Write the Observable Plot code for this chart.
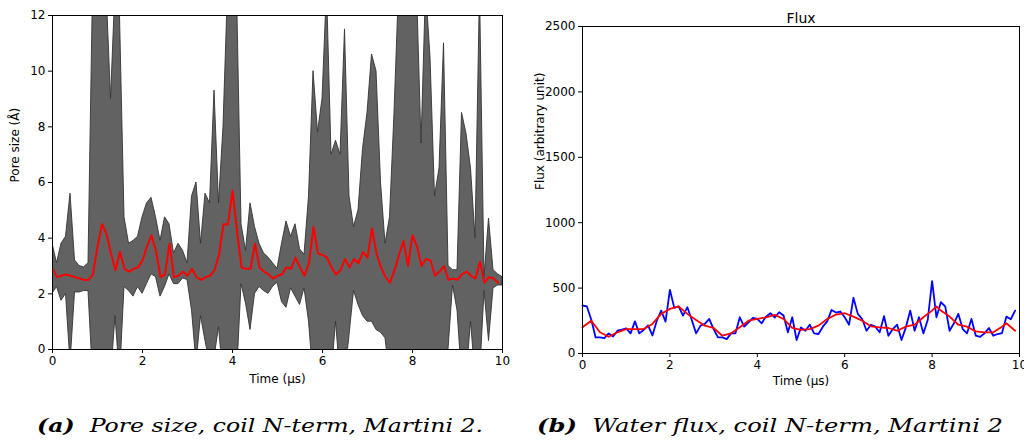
<!DOCTYPE html>
<html><head><meta charset="utf-8">
<script src="https://cdn.jsdelivr.net/npm/d3@7"></script>
<script src="https://cdn.jsdelivr.net/npm/@observablehq/plot@0.6"></script>
<style>
html,body{margin:0;padding:0;background:#fff}
body{width:1024px;height:443px;position:relative;overflow:hidden;font-family:"DejaVu Sans",sans-serif}
#a{position:absolute;left:0;top:0}
#b{position:absolute;left:520px;top:0}
.cap{position:absolute;top:413px;font-family:"DejaVu Serif","Liberation Serif",serif;font-style:italic;font-size:19px;line-height:24px;white-space:nowrap;transform-origin:0 0}
.cap b{font-weight:bold}
</style>
</head><body>
<div id="a"></div>
<div id="b"></div>
<div class="cap" id="capA" data-x0="37" data-x1="483"><b>(a)</b>&nbsp; Pore size, coil N-term, Martini 2.</div>
<div class="cap" id="capB" data-x0="537" data-x1="1003"><b>(b)</b>&nbsp; Water flux, coil N-term, Martini 2</div>
<script>
// ---- Pore size chart (a) ----
const poreTime = [0,0.1,0.2,0.3,0.4,0.5,0.6,0.7,0.8,0.9,1,1.1,1.2,1.3,1.4,1.5,1.6,1.7,1.8,1.9,2,2.1,2.2,2.3,2.4,2.5,2.6,2.7,2.8,2.9,3,3.1,3.2,3.3,3.4,3.5,3.6,3.7,3.8,3.9,4,4.1,4.2,4.3,4.4,4.5,4.6,4.7,4.8,4.9,5,5.1,5.2,5.3,5.4,5.5,5.6,5.7,5.8,5.9,6,6.1,6.2,6.3,6.4,6.5,6.6,6.7,6.8,6.9,7,7.1,7.2,7.3,7.4,7.5,7.6,7.7,7.8,7.9,8,8.1,8.2,8.3,8.4,8.5,8.6,8.7,8.8,8.9,9,9.1,9.2,9.3,9.4,9.5,9.6,9.7,9.8,9.9,10];
const poreUpper = [3.8,3.1,3.8,4.05,5.6,3.2,3.0,2.95,3.1,13,13,13,13,9,13,12,4.75,3.8,3.9,4.05,4.75,5.25,5.45,4.75,3.9,4.75,4.5,3.45,3.8,3.55,3.1,5.5,6.0,3.8,5.6,5.25,9.3,5.25,8.0,13,13,13,4.5,3.55,5.25,4.4,3.8,3.45,3.3,3.1,2.9,3.8,4.6,4.05,4.5,3.6,3.4,5.5,10.0,7.8,9.0,13,7.0,7.5,7.0,11.5,5.5,4.4,5.0,7.2,8.5,10.6,10.0,6.0,3.8,4.75,8.5,13,13,13,13,13,7.4,13,10.5,5.5,6.5,11.0,3.0,2.85,2.85,8.5,7.75,6.5,4.0,13,2.6,4.7,2.85,2.7,2.6];
const poreLower = [2.0,2.25,1.75,2.0,-0.5,2.05,2.05,2.1,2.1,-1,-1,-1,-1,-1,1.2,-1,2.25,2.1,1.9,2.25,2.0,2.35,2.7,2.6,1.9,2.25,2.7,2.35,2.35,2.55,2.5,1.4,-0.5,1.2,0.3,-0.5,-0.3,0.8,-1,-1,-1,-1,2.35,1.65,0.7,2.0,2.25,2.1,2.0,2.25,2.4,1.7,1.5,2.2,1.9,1.6,2.2,1.0,-1,-1,-1,-1,-1,1.0,-1,-1,0.5,2.1,1.6,1.2,1.0,1.0,0.7,0.6,0.4,-1,-1,-1,-1,-1,-1,-1,-1,-1,-1,-1,-1,-1,0,2.3,1.4,-1,-1,1.0,-1,-1,2.1,0.3,2.2,2.3,2.3];
const poreMean = [2.9,2.6,2.65,2.7,2.65,2.6,2.55,2.5,2.5,2.7,3.7,4.5,4.15,3.45,2.85,3.5,2.9,2.8,2.9,2.95,3.2,3.7,4.1,3.55,2.6,2.7,3.8,2.6,2.65,2.8,2.65,2.9,2.6,2.5,2.6,2.65,2.85,3.4,4.5,4.5,5.7,4.25,2.95,2.9,2.9,3.8,2.95,2.8,2.7,2.55,2.65,2.7,2.95,2.9,3.3,2.95,2.65,3.1,4.4,3.45,3.4,3.3,2.95,2.7,2.85,3.25,2.95,3.25,3.1,3.5,3.3,4.35,3.45,2.95,2.6,2.4,2.85,3.4,3.9,3.0,4.1,3.7,3.0,3.25,3.2,2.65,2.8,3.0,2.5,2.55,2.5,2.7,2.8,2.65,2.55,3.15,2.4,2.6,2.55,2.4];
const poreTicksY = [0,2,4,6,8,10,12];
const timeTicks = [0,2,4,6,8,10];

// ---- Flux chart (b) ----
const fluxTime = poreTime.slice(0, 100);
const fluxRaw = [367,360,260,123,123,118,154,130,174,182,192,154,246,154,180,215,138,251,328,244,487,349,360,290,354,256,154,213,226,264,187,123,123,110,154,154,277,205,238,272,264,231,282,308,275,315,290,162,277,103,200,174,220,154,149,205,246,333,313,321,277,220,426,303,264,174,220,205,162,285,136,187,220,103,200,328,174,277,154,256,554,277,392,360,174,231,303,187,154,264,136,128,154,195,136,149,156,282,262,328];
const fluxSmoothTime = [0,0.2,0.4,0.6,0.8,1,1.2,1.4,1.6,1.8,2,2.2,2.4,2.6,2.8,3,3.2,3.4,3.6,3.8,4,4.2,4.4,4.6,4.8,5,5.2,5.4,5.6,5.8,6,6.2,6.4,6.6,6.8,7,7.2,7.4,7.6,7.8,8,8.1,8.2,8.4,8.6,8.8,9,9.2,9.4,9.6,9.7,9.9];
const fluxSmooth = [200,251,162,128,162,187,187,187,226,303,341,360,303,256,213,195,136,154,200,251,264,277,295,264,195,180,187,213,264,297,308,282,251,208,200,195,174,205,220,277,328,360,328,282,220,205,169,162,162,205,231,174];
const fluxTicksY = [0,500,1000,1500,2000,2500];

const font = "DejaVu Sans";

const bandRows = poreTime.map((t, i) => ({t, lo: poreLower[i], hi: poreUpper[i]}));
const meanRows = poreMean.map((m, i) => ({t: poreTime[i], m}));

const plotA = Plot.plot({
  width: 520, height: 392,
  marginLeft: 52, marginRight: 18, marginTop: 15, marginBottom: 43,
  style: {fontFamily: font, fontSize: "12px", background: "white", color: "black"},
  x: {domain: [0, 10], ticks: timeTicks, tickSize: 4, tickPadding: 3, label: null},
  y: {domain: [0, 12], ticks: poreTicksY, tickSize: 4, tickPadding: 3, label: null},
  marks: [
    Plot.areaY(bandRows, {x: "t", y1: "lo", y2: "hi", fill: "#626262", stroke: "#333", strokeWidth: 0.9, clip: true}),
    Plot.line(meanRows, {x: "t", y: "m", stroke: "red", strokeWidth: 2, clip: true}),
    Plot.frame({stroke: "black", strokeWidth: 1}),
    Plot.text(["Time (μs)"], {frameAnchor: "bottom", dy: 33, text: d => d, fontSize: 12}),
    Plot.text(["Pore size (Å)"], {frameAnchor: "left", dx: -37, rotate: -90, text: d => d, fontSize: 12})
  ]
});
document.getElementById("a").appendChild(plotA);

const rawRows = fluxRaw.map((v, i) => ({t: fluxTime[i], v}));
const smoothRows = fluxSmooth.map((v, i) => ({t: fluxSmoothTime[i], v}));

const plotB = Plot.plot({
  width: 504, height: 392,
  marginLeft: 62, marginRight: 5, marginTop: 26, marginBottom: 39,
  style: {fontFamily: font, fontSize: "12px", background: "white", color: "black"},
  x: {domain: [0, 10], ticks: timeTicks, tickSize: 4, tickPadding: 3, label: null},
  y: {domain: [0, 2500], ticks: fluxTicksY, tickSize: 4, tickPadding: 3, label: null, tickFormat: d => String(d)},
  marks: [
    Plot.line(rawRows, {x: "t", y: "v", stroke: "#0000ff", strokeWidth: 1.8}),
    Plot.line(smoothRows, {x: "t", y: "v", stroke: "red", strokeWidth: 1.8}),
    Plot.frame({stroke: "black", strokeWidth: 1}),
    Plot.text(["Time (μs)"], {frameAnchor: "bottom", dy: 31, text: d => d, fontSize: 12}),
    Plot.text(["Flux (arbitrary unit)"], {frameAnchor: "left", dx: -42, rotate: -90, text: d => d, fontSize: 12}),
    Plot.text(["Flux"], {frameAnchor: "top", dy: -13, text: d => d, fontSize: 14})
  ]
});
document.getElementById("b").appendChild(plotB);

// fit captions to the reference span widths
for (const el of document.querySelectorAll(".cap")) {
  const x0 = +el.dataset.x0, x1 = +el.dataset.x1;
  const w = el.getBoundingClientRect().width;
  el.style.left = x0 + "px";
  el.style.transform = `scaleX(${(x1 - x0) / w})`;
}
</script>
</body></html>
